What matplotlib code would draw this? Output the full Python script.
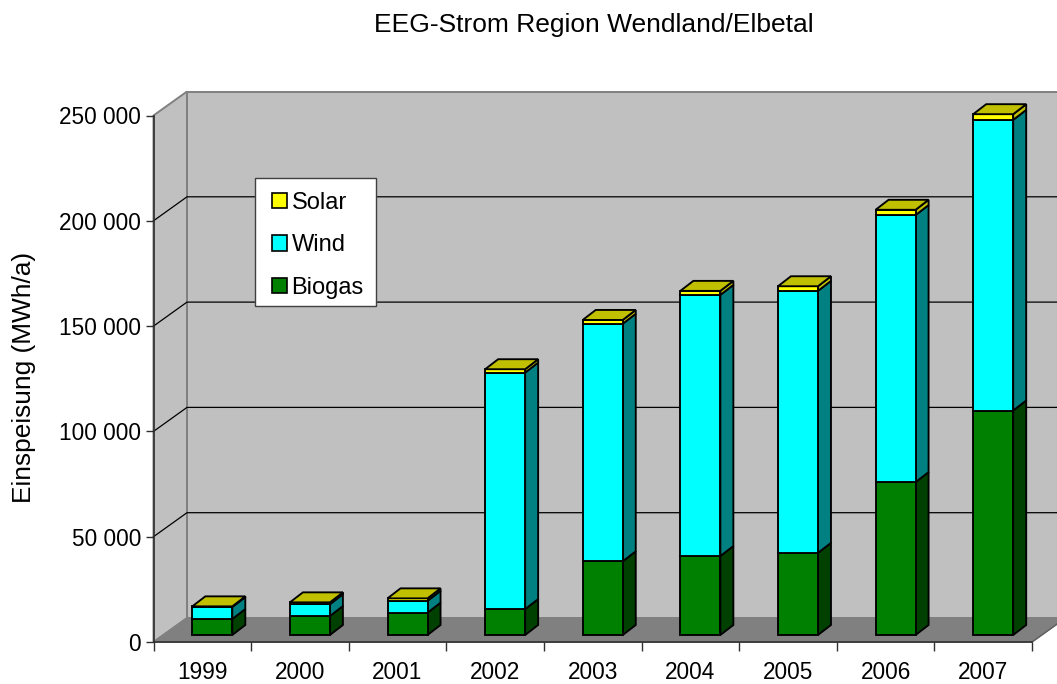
import matplotlib
matplotlib.use("Agg")
import matplotlib.pyplot as plt
from matplotlib.patches import Polygon, Patch, Rectangle

years = ["1999", "2000", "2001", "2002", "2003", "2004", "2005", "2006", "2007"]
biogas = [7600, 9000, 10600, 12300, 35000, 37500, 39000, 72600, 106600]
wind = [5700, 5600, 5600, 112300, 112800, 124000, 124400, 126800, 138000]
solar = [300, 900, 1200, 1600, 1800, 1900, 2200, 2500, 2700]
series = [("Biogas", biogas, "#008000", "#004000", "#004000"),
          ("Wind", wind, "#00FFFF", "#008080", "#008080"),
          ("Solar", solar, "#FFFF00", "#C0C000", "#C0C000")]
y_ticks = [0, 50000, 100000, 150000, 200000, 250000]
y_labels = ["0", "50 000", "100 000", "150 000", "200 000", "250 000"]

W, H = 1057, 684
L, R, B, T = 153.5, 1032.0, 642.0, 115.5   # plot front plane in pixels from top-left
plt.rcParams["font.family"] = ["Liberation Sans", "DejaVu Sans"]
fig = plt.figure(figsize=(W / 100, H / 100), dpi=100, facecolor="white")
ax = fig.add_axes([L / W, 1 - B / H, (R - L) / W, (B - T) / H])
ax.set_xlim(0, len(years))
ax.set_ylim(0, 250000)
ax.patch.set_visible(False)

sx = len(years) / (R - L)      # data per pixel
sy = 250000 / (B - T)
DX, DY = 33.5 * sx, 24 * sy    # wall depth
GX, GY = 10 * sx, 7 * sy       # gap in front of the bars
BW = 40 * sx                   # bar front width
BDX, BDY = 13 * sx, 10 * sy    # bar depth
XEND = (W + 40) * sx           # walls run beyond the figure edge
GRAY = "#808080"
EDGE = 1.35


def poly(points, fc, ec, lw, z):
    ax.add_patch(Polygon(points, closed=True, fc=fc, ec=ec, lw=lw, zorder=z,
                         clip_on=False, joinstyle="miter"))


# Walls and floor
poly([(DX, DY), (XEND, DY), (XEND, 250000 + DY), (DX, 250000 + DY)], "#C0C0C0", GRAY, 1.4, 1)
poly([(0, 0), (DX, DY), (DX, 250000 + DY), (0, 250000)], "#C0C0C0", GRAY, 1.4, 1)
poly([(0, 0), (DX, DY), (XEND, DY), (len(years) + DX, DY), (len(years), 0)], GRAY, GRAY, 1.0, 1)
ax.plot([len(years), len(years) + DX], [0, DY], color="#606060", lw=1.0, zorder=1.5, clip_on=False)

# Gridlines on the side wall and the back wall
for v in y_ticks[1:-1]:
    ax.plot([0, DX, XEND], [v, v + DY, v + DY], color="black", lw=0.9, zorder=2, clip_on=False)

# Stacked 3D columns
for i in range(len(years)):
    x0 = i + 0.5 - BW / 2 + GX
    x1 = x0 + BW
    base = GY
    for s, (name, vals, front, side, top) in enumerate(series):
        y0 = base
        y1 = base + vals[i]
        z = 3 + s
        poly([(x1, y0), (x1 + BDX, y0 + BDY), (x1 + BDX, y1 + BDY), (x1, y1)], side, "black", EDGE, z)
        poly([(x0, y0), (x1, y0), (x1, y1), (x0, y1)], front, "black", EDGE, z)
        if s == len(series) - 1:
            poly([(x0, y1), (x1, y1), (x1 + BDX, y1 + BDY), (x0 + BDX, y1 + BDY)], top, "black", EDGE, z)
        base = y1

# Axes
for sp in ("top", "right"):
    ax.spines[sp].set_visible(False)
for sp in ("left", "bottom"):
    ax.spines[sp].set_linewidth(1.2)
    ax.spines[sp].set_color("#303030")
    ax.spines[sp].set_zorder(2.5)
ax.set_yticks(y_ticks, y_labels, fontsize=16.3)
ax.set_xticks(range(len(years) + 1), [""] * (len(years) + 1))
ax.set_xticks([i + 0.5 for i in range(len(years))], years, minor=True, fontsize=16.3)
ax.tick_params(axis="y", length=6, width=1.0, pad=3, color="#303030")
ax.tick_params(axis="x", which="major", length=6.5, width=1.0, color="#303030")
ax.tick_params(axis="x", which="minor", length=0, pad=14)
fig.text(24.5 / W, 1 - 377.5 / H, "Einspeisung (MWh/a)", rotation=90, ha="center", va="center", fontsize=18.9)
fig.text(593.5 / W, 1 - 32 / H, "EEG-Strom Region Wendland/Elbetal", ha="center", va="baseline", fontsize=19)

# Legend box and entries
ax.add_patch(Rectangle((255 / W, 1 - 306 / H), 121 / W, 128 / H, transform=fig.transFigure,
                       fc="white", ec="#404040", lw=1.0, zorder=9, clip_on=False))
handles = [Patch(fc=c[2], ec="black", lw=1.2, label=c[0]) for c in reversed(series)]
leg = ax.legend(handles=handles, loc="upper left",
                bbox_to_anchor=(272 / W, 1 - 191.7 / H), bbox_transform=fig.transFigure,
                fontsize=17, frameon=False, borderaxespad=0, borderpad=0, labelspacing=0.87,
                handlelength=0.63, handleheight=0.63, handletextpad=0.2)
leg.set_zorder(10)

fig.savefig("out.png", dpi=100)
